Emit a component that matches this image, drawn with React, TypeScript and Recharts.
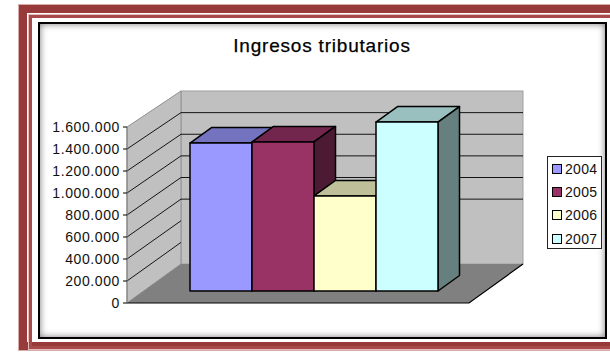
import React from "react";
import { BarChart, Bar, XAxis, YAxis, CartesianGrid, Legend } from "recharts";

const years = ["2004", "2005", "2006", "2007"];
const ingresos = [1345000, 1355000, 864000, 1536000];
const colors = ["#9999ff", "#993366", "#ffffcc", "#ccffff"];
const yTicks = [0, 200000, 400000, 600000, 800000, 1000000, 1200000, 1400000, 1600000];

const row: Record<string, string | number> = { name: "Ingresos tributarios" };
years.forEach((y, i) => {
  row[y] = ingresos[i];
});
const data = [row];

const FONT = '"Liberation Sans", Arial, sans-serif';

// front plane of the fake 3D box
const LEFT = 127;
const RIGHT = 469;
const TOP = 127;
const BOTTOM = 303;
const DEPTH_X = 54;
const BACK_TOP = 91;
const BACK_BOTTOM = 264;

const backY = (y: number) =>
  BACK_BOTTOM - ((BOTTOM - y) * (BACK_BOTTOM - BACK_TOP)) / (BOTTOM - TOP);

const shade = (hex: string, k: number) => {
  const n = parseInt(hex.slice(1), 16);
  const c = [(n >> 16) & 255, (n >> 8) & 255, n & 255].map((v) => Math.round(v * k));
  return `rgb(${c[0]},${c[1]},${c[2]})`;
};

// sits in its own svg under the chart so the grid lines land on top of it
const Walls = () => (
  <svg width={610} height={354} style={{ position: "absolute", left: 0, top: 0 }}>
    <rect x={LEFT + DEPTH_X} y={BACK_TOP} width={RIGHT - LEFT} height={BACK_BOTTOM - BACK_TOP} fill="#c0c0c0" stroke="#a0a0a0" />
    <polygon
      points={`${LEFT},${TOP} ${LEFT + DEPTH_X},${BACK_TOP} ${LEFT + DEPTH_X},${BACK_BOTTOM} ${LEFT},${BOTTOM}`}
      fill="#c0c0c0"
      stroke="#909090"
    />
    <polygon
      points={`${LEFT},${BOTTOM} ${LEFT + DEPTH_X},${BACK_BOTTOM} ${RIGHT + DEPTH_X},${BACK_BOTTOM} ${RIGHT},${BOTTOM}`}
      fill="#808080"
    />
    <polyline
      points={`${LEFT},${BOTTOM} ${RIGHT},${BOTTOM} ${RIGHT + DEPTH_X},${BACK_BOTTOM}`}
      fill="none"
      stroke="#000"
      strokeWidth={1.2}
    />
  </svg>
);

// one grid tick: a line across the side wall and, higher up, across the back wall
const GridLine = (props: any) => {
  const y = props.y1;
  const by = backY(y);
  if (y <= TOP + 1 || y >= BOTTOM - 1) return <g key={props.key} />;
  return (
    <g key={props.key} stroke="#000" strokeWidth={0.9}>
      <line x1={LEFT} y1={y} x2={LEFT + DEPTH_X} y2={by} />
      {y < 250 && <line x1={LEFT + DEPTH_X} y1={by} x2={RIGHT + DEPTH_X} y2={by} />}
    </g>
  );
};

const SHIFT_X = 16;
const SHIFT_Y = -12;
const BAR_DX = 21.5;
const BAR_DY = -15.5;

const Bar3D = (props: any) => {
  const { x, y, width, height, fill } = props;
  const l = x + SHIFT_X;
  const t = y + SHIFT_Y;
  const r = l + width;
  const b = t + height;
  return (
    <g stroke="#000" strokeWidth={1.5} strokeLinejoin="round">
      <polygon
        points={`${l},${t} ${l + BAR_DX},${t + BAR_DY} ${r + BAR_DX},${t + BAR_DY} ${r},${t}`}
        fill={shade(fill, 0.75)}
      />
      <polygon
        points={`${r},${t} ${r + BAR_DX},${t + BAR_DY} ${r + BAR_DX},${b + BAR_DY} ${r},${b}`}
        fill={shade(fill, 0.5)}
      />
      <rect x={l} y={t} width={width} height={height} fill={fill} />
    </g>
  );
};

const LegendBox = ({ payload }: any) => (
  <div
    style={{
      boxSizing: "border-box",
      width: 55,
      height: 93,
      border: "1px solid #222",
      background: "#fff",
      fontFamily: FONT,
      fontSize: 14,
      letterSpacing: 0.3,
      color: "#111",
    }}
  >
    {(payload || []).map((item: any) => (
      <div key={item.value} style={{ height: 23.4, display: "flex", alignItems: "center", paddingLeft: 4 }}>
        <span
          style={{
            display: "inline-block",
            boxSizing: "border-box",
            width: 10,
            height: 10,
            marginRight: 3,
            border: "1px solid #000",
            background: item.color,
          }}
        />
        {item.value}
      </div>
    ))}
  </div>
);

const Frame = () => (
  <>
    <div style={{ position: "absolute", left: 19, top: 5, width: 620, height: 345, border: "8px solid #993a3a", outline: "1px solid #d9aaaa", boxSizing: "border-box" }} />
    <div style={{ position: "absolute", left: 29, top: 15, width: 620, height: 334, border: "3px solid #a84a4a", boxSizing: "border-box", outline: "1px solid #e2bcbc" }} />
    <div style={{ position: "absolute", left: 38, top: 22, width: 569, height: 317, border: "2px solid #000", boxSizing: "border-box", background: "#fff", boxShadow: "inset 0 0 7px #777" }} />
  </>
);

export default function App() {
  return (
    <div style={{ position: "absolute", left: 0, top: 0, width: 610, height: 354, overflow: "hidden", background: "#fff" }}>
      <Frame />
      <Walls />
      <div style={{ position: "absolute", left: 0, top: 0 }}>
        <BarChart
          width={610}
          height={354}
          data={data}
          margin={{ top: TOP, right: 610 - RIGHT, bottom: 354 - BOTTOM, left: LEFT - 77 }}
          barGap={0}
          barCategoryGap={47}
        >
          <CartesianGrid vertical={false} horizontal={GridLine as any} fill="none" />
          <XAxis dataKey="name" hide />
          <YAxis
            width={77}
            domain={[0, 1600000]}
            ticks={yTicks}
            interval={0}
            tickFormatter={(v: number) => String(v).replace(/\B(?=(\d{3})+$)/g, ".")}
            tick={{ fill: "#111", fontSize: 14, fontFamily: FONT, letterSpacing: 0.6 }}
            tickSize={4}
            tickMargin={3}
            axisLine={{ stroke: "#808080" }}
            tickLine={{ stroke: "#000" }}
          />
          {years.map((y, i) => (
            <Bar key={y} dataKey={y} name={y} fill={colors[i]} isAnimationActive={false} shape={Bar3D} />
          ))}
          <text x={322} y={52} textAnchor="middle" fontFamily={FONT} fontSize={19} letterSpacing={0.8} fill="#000" stroke="#000" strokeWidth={0.25}>
            Ingresos tributarios
          </text>
          <Legend
            layout="horizontal"
            verticalAlign="middle"
            align="center"
            content={LegendBox as any}
            wrapperStyle={{ left: 547, top: 156, right: "auto", bottom: "auto", width: 55, height: 93, margin: 0 }}
          />
        </BarChart>
      </div>
    </div>
  );
}
